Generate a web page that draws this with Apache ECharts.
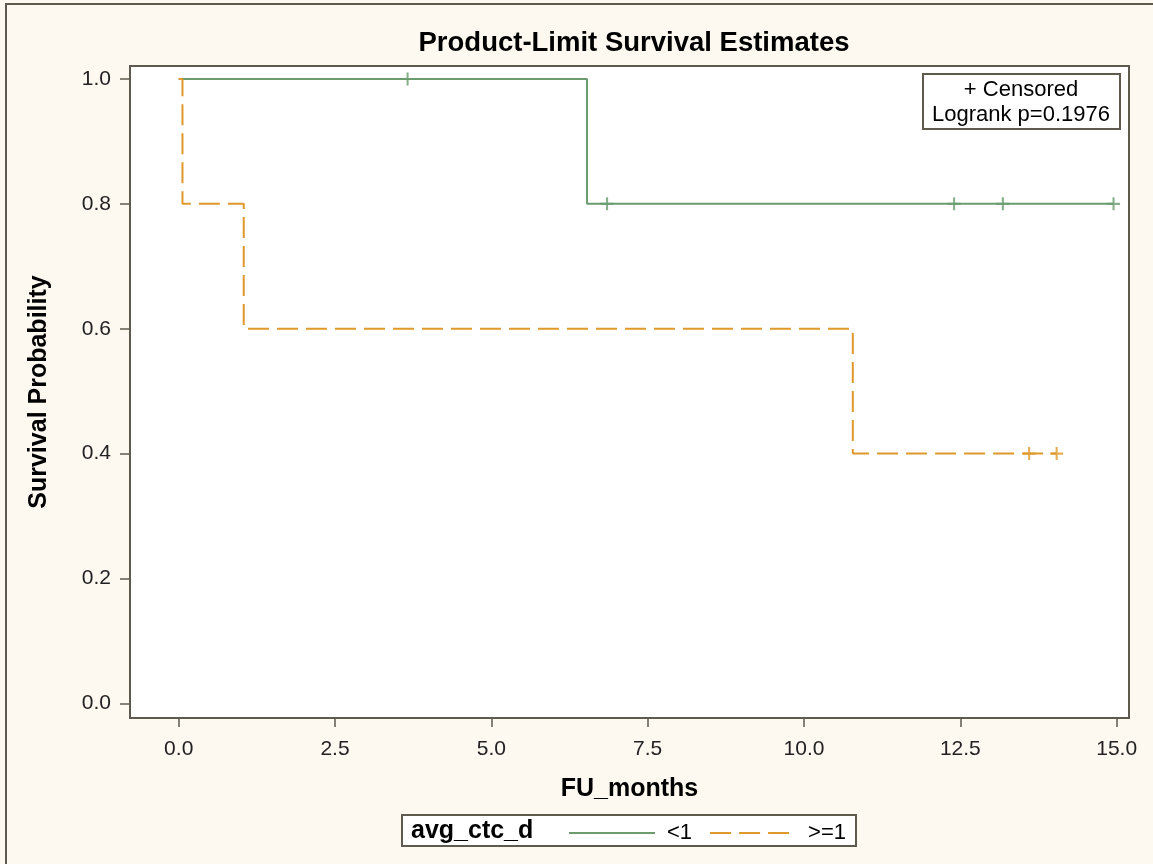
<!DOCTYPE html>
<html>
<head>
<meta charset="utf-8">
<script src="https://cdn.jsdelivr.net/npm/echarts@6/dist/echarts.min.js"></script>
<style>
html,body{margin:0;padding:0;background:#fdf9f1;}
#c{width:1153px;height:864px;}
</style>
</head>
<body>
<div id="c"></div>
<script>
// ---- data ----
const groupNames = ['<1', '>=1'];
// step curve points (time, survival)
const lowTimes = [0, 6.53, 14.95];
const lowSurv  = [1.0, 0.8, 0.8];
const highTimes = [0, 0.06, 1.04, 10.78, 14.04];
const highSurv  = [1.0, 0.8, 0.6, 0.4, 0.4];
// censored observations
const lowCensorTimes = [3.66, 6.85, 12.40, 13.18, 14.95];
const lowCensorSurv  = [1.0, 0.8, 0.8, 0.8, 0.8];
const highCensorTimes = [13.60, 14.04];
const highCensorSurv  = [0.4, 0.4];
const xTicks = [0, 2.5, 5, 7.5, 10, 12.5, 15];
const yTicks = [0, 0.2, 0.4, 0.6, 0.8, 1.0];
const chartTitle = 'Product-Limit Survival Estimates';
const xName = 'FU_months';
const yName = 'Survival Probability';
const legendTitle = 'avg_ctc_d';
const insetLines = ['+ Censored', 'Logrank p=0.1976'];

const GREEN = '#6a9c6f';
const ORANGE = '#e0982a';
const AXIS = '#5f5a4e';
const FONT = '"Liberation Sans", Arial, sans-serif';

const zip = (a, b) => a.map((v, i) => [v, b[i]]);
const t = 0.16;
const plusPath = `path://M-${t},-1 L${t},-1 L${t},-${t} L1,-${t} L1,${t} L${t},${t} L${t},1 L-${t},1 L-${t},${t} L-1,${t} L-1,-${t} L-${t},-${t} Z`;

const chart = echarts.init(document.getElementById('c'), null, {renderer: 'canvas'});
chart.setOption({
  backgroundColor: '#fdf9f1',
  animation: false,
  textStyle: {fontFamily: FONT},
  title: {
    text: chartTitle,
    left: 629, textAlign: 'center', top: 24,
    textStyle: {fontFamily: FONT, fontSize: 27.5, fontWeight: 'bold', color: '#000'}
  },
  grid: {
    left: 130, top: 66, right: 24, bottom: 146,
    show: true, backgroundColor: '#ffffff', borderColor: AXIS, borderWidth: 2
  },
  legend: {
    data: [{name: groupNames[0]}, {name: groupNames[1]}],
    left: 563, top: 817,
    itemWidth: 86, itemHeight: 14, itemGap: 17,
    itemStyle: {opacity: 0},
    textStyle: {fontFamily: FONT, fontSize: 22, color: '#000', padding: [0, 0, 0, 7]},
    selectedMode: false
  },
  xAxis: {
    type: 'value', min: -0.779, max: 15.197,
    name: xName, nameLocation: 'middle', nameGap: 59,
    nameTextStyle: {fontFamily: FONT, fontSize: 25, fontWeight: 'bold', color: '#000'},
    axisLine: {show: true, onZero: false, lineStyle: {color: AXIS, width: 2}},
    axisTick: {show: true, length: 9, customValues: xTicks, lineStyle: {color: AXIS, width: 1.5}},
    axisLabel: {customValues: xTicks, margin: 21, fontFamily: FONT, fontSize: 21, color: '#222',
      formatter: v => v.toFixed(1)},
    splitLine: {show: false}
  },
  yAxis: {
    type: 'value', min: -0.0235, max: 1.0208,
    name: yName, nameLocation: 'middle', nameGap: 78, nameRotate: 90,
    nameTextStyle: {fontFamily: FONT, fontSize: 25, fontWeight: 'bold', color: '#000'},
    axisLine: {show: true, onZero: false, lineStyle: {color: AXIS, width: 2}},
    axisTick: {show: true, length: 10, customValues: yTicks, lineStyle: {color: AXIS, width: 1.5}},
    axisLabel: {customValues: yTicks, margin: 19, fontFamily: FONT, fontSize: 21, color: '#222',
      formatter: v => v.toFixed(1)},
    splitLine: {show: false}
  },
  series: [
    {
      name: groupNames[0], type: 'line', step: 'end', symbol: 'none',
      data: zip(lowTimes, lowSurv),
      lineStyle: {color: GREEN, width: 2}, itemStyle: {color: GREEN}, z: 3
    },
    {
      name: groupNames[1], type: 'line', step: 'end', symbol: 'none',
      data: zip(highTimes, highSurv),
      lineStyle: {color: ORANGE, width: 2, type: [21, 8]}, itemStyle: {color: ORANGE}, z: 3
    },
    {
      name: 'censor_low', type: 'scatter', symbol: plusPath, symbolSize: 13,
      data: zip(lowCensorTimes, lowCensorSurv),
      itemStyle: {color: GREEN}, z: 4
    },
    {
      name: 'censor_high', type: 'scatter', symbol: plusPath, symbolSize: 13,
      data: zip(highCensorTimes, highCensorSurv),
      itemStyle: {color: ORANGE}, z: 4
    }
  ],
  graphic: [
    {type: 'rect', shape: {x: 6, y: 4, width: 1200, height: 900}, style: {fill: 'none', stroke: AXIS, lineWidth: 2}, silent: true, z: -1},
    {type: 'rect', shape: {x: 402, y: 815, width: 454, height: 31}, style: {fill: '#ffffff', stroke: AXIS, lineWidth: 2}, silent: true, z: -1},
    {type: 'text', x: 411, y: 831, style: {text: legendTitle, font: 'bold 25px ' + FONT, fill: '#000', textVerticalAlign: 'middle'}, silent: true},
    {type: 'rect', shape: {x: 923, y: 74, width: 197, height: 55}, style: {fill: '#ffffff', stroke: AXIS, lineWidth: 2}, silent: true, z: 5},
    {type: 'text', x: 1021, y: 90, style: {text: insetLines[0], font: '22px ' + FONT, fill: '#000', textAlign: 'center', textVerticalAlign: 'middle'}, silent: true, z: 6},
    {type: 'text', x: 1021, y: 115, style: {text: insetLines[1], font: '22px ' + FONT, fill: '#000', textAlign: 'center', textVerticalAlign: 'middle'}, silent: true, z: 6}
  ]
});
</script>
</body>
</html>
